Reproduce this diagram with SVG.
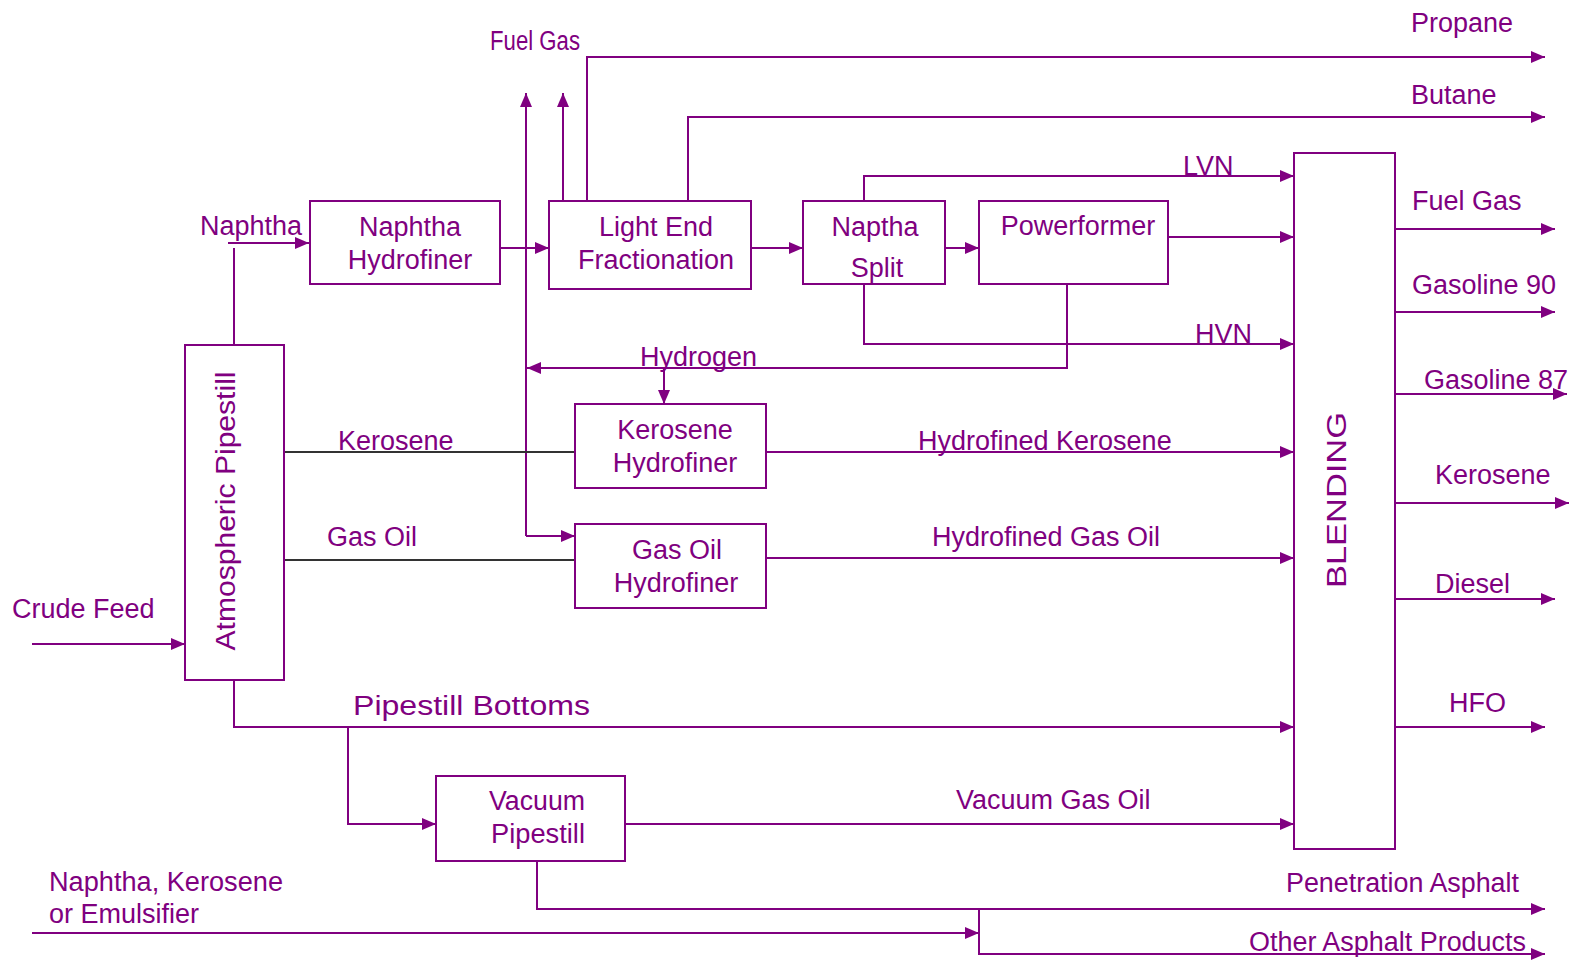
<svg xmlns="http://www.w3.org/2000/svg" width="1575" height="965" viewBox="0 0 1575 965">
<defs>
<marker id="ah" viewBox="0 0 14 12" refX="14" refY="6" markerWidth="14" markerHeight="12" markerUnits="userSpaceOnUse" orient="auto">
<path d="M0,0 L14,6 L0,12 z" fill="#800080"/>
</marker>
</defs>
<style>
.box{fill:#fff;stroke:#800080;stroke-width:2}
.ln{fill:none;stroke:#800080;stroke-width:2}
.la{fill:none;stroke:#800080;stroke-width:2;marker-end:url(#ah)}
.dk{fill:none;stroke:#333;stroke-width:2}
text{font-family:"Liberation Sans",Arial,sans-serif;font-size:27px;fill:#800080}
.c{text-anchor:middle}
</style>
<rect width="1575" height="965" fill="#fff"/>
<g id="connectors">
<polyline class="la" points="228,243 309,243"/>
<polyline class="ln" points="234,248 234,345"/>
<polyline class="la" points="500,248 549,248"/>
<polyline class="la" points="751,248 803,248"/>
<polyline class="la" points="942,248 979,248"/>
<polyline class="la" points="526,536 526,93"/>
<polyline class="la" points="563,201 563,93"/>
<polyline class="la" points="587,201 587,57 1545,57"/>
<polyline class="la" points="688,201 688,117 1545,117"/>
<polyline class="la" points="864,201 864,176 1294,176"/>
<polyline class="la" points="864,284 864,344 1294,344"/>
<polyline class="la" points="1168,237 1294,237"/>
<polyline class="la" points="1067,284 1067,368 527,368"/>
<polyline class="la" points="664,368 664,404"/>
<polyline class="la" points="526,536 575,536"/>
<polyline class="dk" points="284,452 575,452"/>
<polyline class="dk" points="284,560 575,560"/>
<polyline class="la" points="765,452 1294,452"/>
<polyline class="la" points="762,558 1294,558"/>
<polyline class="la" points="32,644 185,644"/>
<polyline class="la" points="234,680 234,727 1294,727"/>
<polyline class="la" points="348,727 348,824 436,824"/>
<polyline class="la" points="625,824 1294,824"/>
<polyline class="la" points="537,861 537,909 1545,909"/>
<polyline class="la" points="32,933 979,933"/>
<polyline class="la" points="979,909 979,954 1545,954"/>
<polyline class="la" points="1391,229 1555,229"/>
<polyline class="la" points="1391,312 1555,312"/>
<polyline class="la" points="1391,394 1567,394"/>
<polyline class="la" points="1391,503 1569,503"/>
<polyline class="la" points="1391,599 1555,599"/>
<polyline class="la" points="1395,727 1545,727"/>
</g>
<g id="atm">
<rect class="box" x="185" y="345" width="99" height="335"/>
<text class="c" transform="translate(235,511) rotate(-90)" font-size="30" textLength="279" lengthAdjust="spacingAndGlyphs">Atmospheric Pipestill</text>
</g>
<g id="nh">
<rect class="box" x="310" y="201" width="190" height="83"/>
<text class="c" x="410" y="236">Naphtha</text>
<text class="c" x="410" y="269">Hydrofiner</text>
</g>
<g id="lef">
<rect class="box" x="549" y="201" width="202" height="88"/>
<text class="c" x="656" y="236">Light End</text>
<text class="c" x="656" y="269">Fractionation</text>
</g>
<g id="ns">
<rect class="box" x="803" y="201" width="142" height="83"/>
<text class="c" x="875" y="236">Naptha</text>
<text class="c" x="877" y="277">Split</text>
</g>
<g id="pf">
<rect class="box" x="979" y="201" width="189" height="83"/>
<text class="c" x="1078" y="235">Powerformer</text>
</g>
<g id="kh">
<rect class="box" x="575" y="404" width="191" height="84"/>
<text class="c" x="675" y="439">Kerosene</text>
<text class="c" x="675" y="472">Hydrofiner</text>
</g>
<g id="goh">
<rect class="box" x="575" y="524" width="191" height="84"/>
<text class="c" x="677" y="559">Gas Oil</text>
<text class="c" x="676" y="592">Hydrofiner</text>
</g>
<g id="vp">
<rect class="box" x="436" y="776" width="189" height="85"/>
<text class="c" x="537" y="810" font-size="28" textLength="96" lengthAdjust="spacingAndGlyphs">Vacuum</text>
<text class="c" x="538" y="843" font-size="28" textLength="94" lengthAdjust="spacingAndGlyphs">Pipestill</text>
</g>
<g id="blending">
<rect class="box" x="1294" y="153" width="101" height="696"/>
<text class="c" transform="translate(1346,500) rotate(-90)" font-size="34" textLength="176" lengthAdjust="spacingAndGlyphs">BLENDING</text>
</g>
<g id="labels">
<text x="490" y="50" font-size="21" textLength="90" lengthAdjust="spacingAndGlyphs">Fuel Gas</text>
<text x="1411" y="32">Propane</text>
<text x="1411" y="104">Butane</text>
<text x="1183" y="175">LVN</text>
<text x="1195" y="343">HVN</text>
<text x="640" y="366">Hydrogen</text>
<text x="200" y="235">Naphtha</text>
<text x="338" y="450">Kerosene</text>
<text x="327" y="546">Gas Oil</text>
<text x="918" y="450">Hydrofined Kerosene</text>
<text x="932" y="546">Hydrofined Gas Oil</text>
<text x="12" y="618">Crude Feed</text>
<text x="353" y="715" font-size="32" textLength="237" lengthAdjust="spacingAndGlyphs">Pipestill Bottoms</text>
<text x="956" y="809">Vacuum Gas Oil</text>
<text x="49" y="891" font-size="28" textLength="234" lengthAdjust="spacingAndGlyphs">Naphtha,  Kerosene</text>
<text x="49" y="923" font-size="28" textLength="150" lengthAdjust="spacingAndGlyphs">or Emulsifier</text>
<text x="1286" y="892" font-size="28" textLength="233" lengthAdjust="spacingAndGlyphs">Penetration Asphalt</text>
<text x="1249" y="951" font-size="28" textLength="277" lengthAdjust="spacingAndGlyphs">Other Asphalt Products</text>
<text x="1412" y="210">Fuel Gas</text>
<text x="1412" y="294">Gasoline 90</text>
<text x="1424" y="389">Gasoline 87</text>
<text x="1435" y="484">Kerosene</text>
<text x="1435" y="593">Diesel</text>
<text x="1449" y="712">HFO</text>
</g>
</svg>
